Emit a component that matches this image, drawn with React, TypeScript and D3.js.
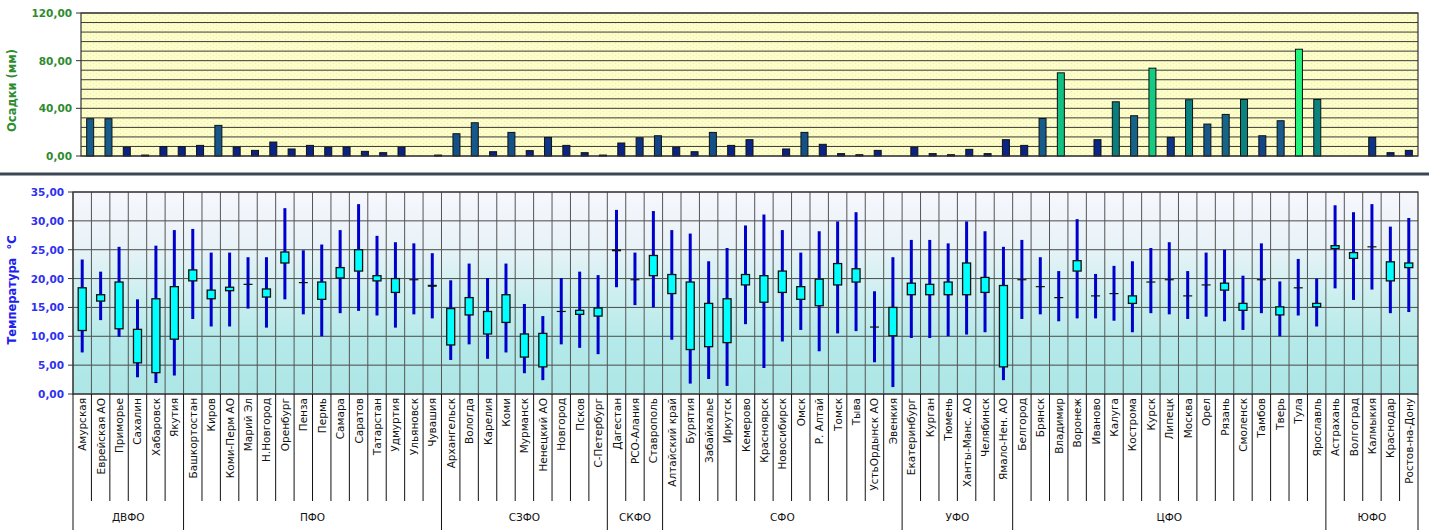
import React from "react";
import * as d3 from "d3";

const categories = [
  "Амурская", "Еврейская АО", "Приморье", "Сахалин", "Хабаровск", "Якутия",
  "Башкортостан", "Киров", "Коми-Перм АО", "Марий Эл", "Н.Новгород", "Оренбург", "Пенза", "Пермь", "Самара", "Саратов", "Татарстан", "Удмуртия", "Ульяновск", "Чувашия",
  "Архангельск", "Вологда", "Карелия", "Коми", "Мурманск", "Ненецкий АО", "Новгород", "Псков", "С-Петербург",
  "Дагестан", "РСО-Алания", "Ставрополь",
  "Алтайский край", "Бурятия", "Забайкалье", "Иркутск", "Кемерово", "Красноярск", "Новосибирск", "Омск", "Р. Алтай", "Томск", "Тыва", "УстьОрдынск АО", "Эвенкия",
  "Екатеринбург", "Курган", "Тюмень", "Ханты-Манс. АО", "Челябинск", "Ямало-Нен. АО",
  "Белгород", "Брянск", "Владимир", "Воронеж", "Иваново", "Калуга", "Кострома", "Курск", "Липецк", "Москва", "Орел", "Рязань", "Смоленск", "Тамбов", "Тверь", "Тула", "Ярославль",
  "Астрахань", "Волгоград", "Калмыкия", "Краснодар", "Ростов-на-Дону",
];

const districtNames = ["ДВФО", "ПФО", "СЗФО", "СКФО", "СФО", "УФО", "ЦФО", "ЮФО"];
const districtSizes = [6, 14, 9, 3, 13, 6, 17, 5];

const precipitation = [
  31.3, 31.3, 7.3, 0.8, 7.8, 7.8,
  8.9, 25.7, 7.5, 4.7, 11.7, 5.9, 8.9, 7.3, 7.5, 3.9, 2.8, 7.3, 0, 0.8,
  18.7, 27.9, 3.6, 19.8, 4.5, 15.6, 8.9, 2.8, 0.8,
  10.9, 15.3, 17.0,
  7.3, 3.6, 19.8, 8.9, 13.7, 0, 5.9, 19.8, 9.8, 2.0, 1.1, 4.7, 0,
  7.3, 2.0, 1.1, 5.6, 2.0, 13.7,
  8.9, 31.5, 69.8, 0, 13.7, 45.5, 33.8, 73.7, 15.6, 47.2, 26.8, 34.9, 47.4, 17.0, 29.6, 89.6, 47.4,
  0, 0, 15.6, 2.8, 4.7,
];

const tempMax = [
  23.3, 21.2, 25.5, 16.4, 25.7, 28.4,
  28.6, 24.5, 24.5, 23.7, 23.7, 32.2, 24.9, 25.9, 28.4, 32.9, 27.4, 26.3, 26.1, 24.4,
  19.7, 22.6, 20.1, 22.6, 15.6, 13.5, 20.1, 21.2, 20.6,
  31.9, 24.5, 31.7,
  28.4, 27.8, 23.0, 25.3, 29.2, 31.1, 28.4, 24.5, 28.2, 29.9, 31.5, 17.8, 23.7,
  26.7, 26.7, 26.1, 29.9, 28.2, 25.5,
  26.7, 23.7, 21.3, 30.3, 20.8, 22.2, 23.0, 25.3, 26.3, 21.3, 24.5, 25.0, 20.5, 26.1, 19.5, 23.4, 20.0,
  32.7, 31.5, 32.9, 29.0, 30.5,
];

const tempMin = [
  7.2, 12.8, 9.9, 2.9, 1.9, 3.2,
  13.0, 11.7, 11.7, 14.8, 11.5, 16.4, 13.8, 10.0, 14.0, 14.4, 13.6, 11.5, 13.8, 13.1,
  5.9, 8.6, 6.1, 7.2, 3.6, 2.4, 8.6, 8.0, 6.9,
  18.5, 15.4, 15.0,
  9.4, 1.8, 2.6, 1.4, 12.1, 4.5, 9.1, 11.1, 7.4, 10.5, 10.9, 5.5, 1.2,
  9.7, 9.7, 10.0, 10.3, 10.7, 2.4,
  13.0, 13.8, 12.6, 13.1, 13.1, 12.7, 10.7, 14.0, 13.8, 13.0, 13.4, 12.6, 11.1, 14.0, 10.0, 13.6, 11.7,
  18.3, 16.3, 18.1, 14.0, 14.2,
];

const boxTop = [
  18.4, 17.2, 19.4, 11.2, 16.5, 18.6,
  21.5, 18.0, 18.5, 19.0, 18.2, 24.6, 19.3, 19.4, 21.9, 25.0, 20.5, 20.0, 19.8, 18.9,
  14.8, 16.7, 14.3, 17.2, 10.4, 10.5, 14.3, 14.5, 14.9,
  25.0, 19.8, 24.0,
  20.7, 19.4, 15.7, 16.5, 20.7, 20.5, 21.3, 18.6, 19.9, 22.6, 21.7, 11.6, 15.0,
  19.2, 19.0, 19.4, 22.7, 20.2, 18.8,
  19.8, 18.6, 16.7, 23.1, 17.0, 17.4, 17.0, 19.4, 19.8, 17.0, 18.9, 19.2, 15.7, 19.8, 15.1, 18.4, 15.7,
  25.7, 24.5, 25.5, 22.9, 22.7,
];

const boxBottom = [
  11.0, 16.1, 11.3, 5.4, 3.7, 9.5,
  19.6, 16.5, 17.9, 19.0, 16.8, 22.7, 19.3, 16.4, 20.1, 21.3, 19.6, 17.6, 19.8, 18.6,
  8.5, 13.7, 10.4, 12.4, 6.4, 4.7, 14.3, 13.8, 13.5,
  24.8, 19.8, 20.5,
  17.4, 7.7, 8.2, 8.9, 18.9, 15.9, 17.6, 16.4, 15.3, 18.9, 19.4, 11.6, 10.1,
  17.2, 17.2, 17.2, 17.2, 17.6, 4.7,
  19.8, 18.6, 16.7, 21.3, 17.0, 17.4, 15.7, 19.4, 19.8, 17.0, 18.9, 18.0, 14.5, 19.8, 13.7, 18.4, 15.1,
  25.2, 23.5, 25.5, 19.6, 21.9,
];

const precipTicks = [0, 40, 80, 120];
const tempTicks = [0, 5, 10, 15, 20, 25, 30, 35];

const fmt = (v: number) => d3.format(".2f")(v).replace(".", ",");
const FONT = "'DejaVu Sans', Verdana, sans-serif";

export default function App() {
  const W = 1429, H = 530;

  // top chart
  const tL = 81, tR = 1418, tTop = 13, tBot = 156;
  const xTop = d3.scaleBand<string>().domain(categories).range([tL, tR]);
  const yTop = d3.scaleLinear().domain([0, 120]).range([tBot, tTop]);
  const gridTop = d3.range(0, 121, 8);
  const barColor = d3
    .scaleLinear<string>()
    .domain([0, 14, 18, 30, 46, 70, 90])
    .range(["#0a1f85", "#0a2585", "#134f88", "#185a8c", "#0a7f7f", "#12c282", "#22f27a"])
    .clamp(true);

  // bottom chart
  const bL = 73, bR = 1418, bTop = 192, bBot = 394;
  const xBot = d3.scaleBand<string>().domain(categories).range([bL, bR]);
  const yBot = d3.scaleLinear().domain([0, 35]).range([bBot, bTop]);

  // district spans
  let acc = 0;
  const districts = districtNames.map((n, i) => {
    const start = acc;
    acc += districtSizes[i];
    return { name: n, start, end: acc };
  });
  const bw = xBot.bandwidth();
  const xEdge = (i: number) => bL + i * bw;

  return (
    <svg
      width={W}
      height={H}
      style={{ position: "absolute", left: 0, top: 0, background: "#fff" }}
      fontFamily={FONT}
    >
      <defs>
        <pattern id="dots" width="6" height="4" patternUnits="userSpaceOnUse">
          <rect width="6" height="4" fill="#fdfdc8" />
          <rect x="0" y="1" width="1" height="1" fill="#ececc0" />
          <rect x="3" y="3" width="1" height="1" fill="#ececc0" />
        </pattern>
        <linearGradient id="tempBg" x1="0" y1="0" x2="0" y2="1">
          <stop offset="0%" stopColor="#f6f7fd" />
          <stop offset="25%" stopColor="#eaf3f8" />
          <stop offset="55%" stopColor="#c8eeee" />
          <stop offset="75%" stopColor="#b4e9e9" />
          <stop offset="100%" stopColor="#ade6e6" />
        </linearGradient>
      </defs>

      {/* ---------- top precipitation chart ---------- */}
      <rect x={tL} y={tTop} width={tR - tL} height={tBot - tTop} fill="url(#dots)" />
      {gridTop.map((v) => (
        <line key={v} x1={tL} x2={tR} y1={yTop(v)} y2={yTop(v)} stroke="#3a3a3a" strokeWidth={1} />
      ))}
      {precipitation.map((v, i) =>
        v > 0 ? (
          <rect
            key={i}
            x={xTop(categories[i])! + xTop.bandwidth() / 2 - 3.5}
            y={yTop(v)}
            width={7}
            height={yTop(0) - yTop(v)}
            fill={barColor(v)}
            stroke="#111"
            strokeWidth={1}
          />
        ) : null
      )}
      <rect x={tL} y={tTop} width={tR - tL} height={tBot - tTop} fill="none" stroke="#333" strokeWidth={1.2} />
      {precipTicks.map((v) => (
        <g key={v}>
          <line x1={tL - 5} x2={tL} y1={yTop(v)} y2={yTop(v)} stroke="#333" />
          <text x={72} y={yTop(v) + 4} textAnchor="end" fontSize={10.5} fill="#2e8b2e" fontWeight="bold">
            {fmt(v)}
          </text>
        </g>
      ))}
      <text
        transform={`translate(16,${(tTop + tBot) / 2 + 6}) rotate(-90)`}
        textAnchor="middle"
        fontSize={11.5}
        fontWeight="bold"
        fill="#2e8b2e"
      >
        Осадки (мм)
      </text>

      {/* separator */}
      <rect x={0} y={172.5} width={W} height={2.5} fill="#3c4752" />
      <rect x={0} y={175} width={W} height={1} fill="#9aa3ac" />

      {/* ---------- bottom temperature chart ---------- */}
      <rect x={bL} y={bTop} width={bR - bL} height={bBot - bTop} fill="url(#tempBg)" />
      {tempTicks.map((v) => (
        <line key={v} x1={bL} x2={bR} y1={yBot(v)} y2={yBot(v)} stroke="#4a4a4a" strokeWidth={1} />
      ))}
      {categories.map((c, i) => (
        <line key={c} x1={xEdge(i)} x2={xEdge(i)} y1={bTop} y2={bBot} stroke="#555" strokeWidth={1} />
      ))}
      {categories.map((c, i) => {
        const cx = xBot(c)! + bw / 2;
        const hi = Math.max(boxTop[i], boxBottom[i]);
        const lo = Math.min(boxTop[i], boxBottom[i]);
        const flat = hi - lo < 0.35;
        return (
          <g key={c}>
            <line x1={cx} x2={cx} y1={yBot(tempMax[i])} y2={yBot(tempMin[i])} stroke="#0000cc" strokeWidth={3} />
            {flat ? (
              <line
                x1={cx - 4.5}
                x2={cx + 4.5}
                y1={yBot((hi + lo) / 2)}
                y2={yBot((hi + lo) / 2)}
                stroke="#111"
                strokeWidth={hi - lo > 0.1 ? 2 : 1.2}
              />
            ) : (
              <rect
                x={cx - 4}
                y={yBot(hi)}
                width={8}
                height={yBot(lo) - yBot(hi)}
                fill="#00ffff"
                stroke="#111"
                strokeWidth={1.3}
              />
            )}
          </g>
        );
      })}
      <rect x={bL} y={bTop} width={bR - bL} height={bBot - bTop} fill="none" stroke="#333" strokeWidth={1.2} />
      {tempTicks.map((v) => (
        <g key={v}>
          <line x1={bL - 5} x2={bL} y1={yBot(v)} y2={yBot(v)} stroke="#333" />
          <text x={64} y={yBot(v) + 4} textAnchor="end" fontSize={10.5} fill="#3030f0" fontWeight="bold">
            {fmt(v)}
          </text>
        </g>
      ))}
      <text
        transform={`translate(16,${(bTop + bBot) / 2 - 3}) rotate(-90)`}
        textAnchor="middle"
        fontSize={11.5}
        fontWeight="bold"
        fill="#2020ee"
        style={{ whiteSpace: "pre" }}
      >
        {"Температура  °С"}
      </text>

      {/* category labels & separators */}
      {d3.range(categories.length + 1).map((i) => {
        const isDistrictEdge = districts.some((d) => d.start === i || d.end === i);
        return (
          <line
            key={i}
            x1={xEdge(i)}
            x2={xEdge(i)}
            y1={bBot}
            y2={isDistrictEdge ? H : 501}
            stroke="#111"
            strokeWidth={1}
          />
        );
      })}
      {categories.map((c) => {
        const cx = xBot(c)! + bw / 2;
        return (
          <text
            key={c}
            transform={`translate(${cx + 4},398) rotate(-90)`}
            textAnchor="end"
            fontSize={10.5}
            fill="#111"
          >
            {c}
          </text>
        );
      })}
      {districts.map((d) => (
        <text
          key={d.name}
          x={(xEdge(d.start) + xEdge(d.end)) / 2}
          y={521}
          textAnchor="middle"
          fontSize={10.5}
          fill="#111"
        >
          {d.name}
        </text>
      ))}
    </svg>
  );
}
